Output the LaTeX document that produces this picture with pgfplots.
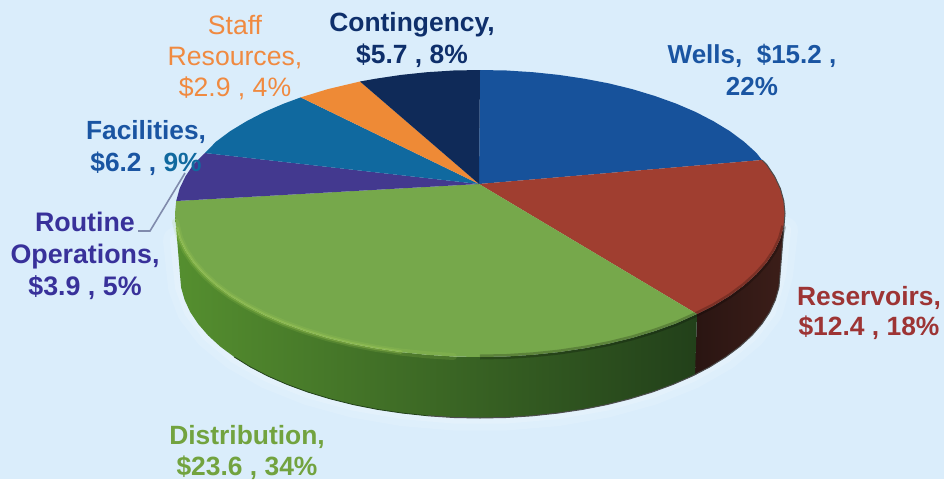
\documentclass[border=0pt]{standalone}
\usepackage{pgfplots}
\pgfplotsset{compat=1.18}
\usepackage{fontspec}
\setmainfont{Liberation Sans}
\definecolor{bg}{HTML}{DAEDFB}
\definecolor{cwells}{HTML}{17529B}
\definecolor{cres}{HTML}{A03E30}
\definecolor{cdist}{HTML}{76A84B}
\definecolor{crout}{HTML}{43398F}
\definecolor{cfac}{HTML}{10699F}
\definecolor{cstaff}{HTML}{EE8A36}
\definecolor{ccont}{HTML}{0F2A58}
\definecolor{twells}{HTML}{1A55A2}
\definecolor{tres}{HTML}{9D3434}
\definecolor{tdist}{HTML}{72A33F}
\definecolor{trout}{HTML}{38319A}
\definecolor{tstaff}{HTML}{F08A40}
\definecolor{tcont}{HTML}{0E2F6B}
\definecolor{sdA}{HTML}{558F2F}
\definecolor{sdB}{HTML}{3F722B}
\definecolor{sdC}{HTML}{22401A}
\definecolor{srA}{HTML}{2A1512}
\definecolor{srB}{HTML}{3C1E19}
\definecolor{hl}{HTML}{A9D15A}
\begin{document}
\begin{tikzpicture}
\begin{axis}[scale only axis,width=944pt,height=479pt,xmin=0,xmax=944,ymin=0,ymax=479,y dir=reverse,hide axis,clip=true]
% background
\addplot[draw=none,fill=bg] coordinates {(0,0)(944,0)(944,479)(0,479)} -- cycle;
% glow round the lower edge
\addplot[line width=26pt,color=white,opacity=0.12,line join=round,line cap=round] coordinates {(176,240)(181.1,287.5)(190.2,312)(208.1,335.4)(234.3,357)(267.9,376.1)(307.9,392.1)(353.2,404.6)(402.4,413.1)(453.9,417.5)(506.1,417.5)(557.6,413.1)(606.8,404.6)(652.1,392.1)(692.1,376.1)(725.7,357)(751.9,335.4)(769.8,312)(780,275)(785,230)};
\addplot[line width=12pt,color=white,opacity=0.18,line join=round,line cap=round] coordinates {(176,240)(181.1,287.5)(190.2,312)(208.1,335.4)(234.3,357)(267.9,376.1)(307.9,392.1)(353.2,404.6)(402.4,413.1)(453.9,417.5)(506.1,417.5)(557.6,413.1)(606.8,404.6)(652.1,392.1)(692.1,376.1)(725.7,357)(751.9,335.4)(769.8,312)(780,275)(785,230)};
% side: reservoirs
\addplot[draw=none,left color=srA,right color=srB] coordinates {
(785,213.5)(783.8,226)(780.4,238.4)(774.6,250.6)(766.6,262.6)(756.4,274.1)(744.1,285.25)(729.9,295.8)(713.6,305.7)(697,314)
(695,375)(709.8,366.9)(725.7,357)(739.8,346.5)(751.9,335.4)(761.9,323.9)(769.8,312)(775.4,299.8)(778.9,287.5)(780,275)} -- cycle;
% side: distribution
\addplot[draw=none,left color=sdA,middle color=sdB,right color=sdC] coordinates {
(697,314)(676.1,323.4)(654.9,331)(632.5,337.8)(608.9,343.6)(584.3,348.3)(558.9,352.1)(533,354.8)(506.6,356.5)(480,357)
(453.4,356.5)(427,354.8)(401.1,352.1)(375.7,348.3)(351.1,343.6)(327.5,337.8)(305.1,331)(283.9,323.4)(264.3,315)(246.4,305.7)
(230.1,295.8)(215.9,285.25)(203.6,274.1)(193.4,262.6)(185.4,250.6)(179.6,238.4)(176.2,226)(175,213.5)
(180,275)(181.1,287.5)(184.6,299.8)(190.2,312)(198.1,323.9)(208.1,335.4)(220.2,346.5)(234.3,357)(250.2,366.9)(267.9,376.1)
(287.2,384.5)(307.9,392.1)(330,398.8)(353.2,404.6)(377.4,409.4)(402.4,413.1)(427.9,415.8)(453.9,417.5)(480,418)(506.1,417.5)
(532.1,415.8)(557.6,413.1)(582.6,409.4)(606.8,404.6)(630,398.8)(652.1,392.1)(672.8,384.5)(695,375)} -- cycle;
% top faces
\addplot[draw=none,fill=cwells] coordinates {(479,184)(480,70)(506.6,70.5)(533,72.2)(558.9,74.9)(584.3,78.7)(608.9,83.4)(632.5,89.2)(654.9,96)(676.1,103.6)(695.7,112)(713.6,121.3)(729.9,131.2)(744.1,141.75)(756.4,152.9)(762,160)} -- cycle;
\addplot[draw=none,fill=cres] coordinates {(479,184)(762,160)(766.6,164.4)(774.6,176.4)(780.4,188.6)(783.8,201)(785,213.5)(783.8,226)(780.4,238.4)(774.6,250.6)(766.6,262.6)(756.4,274.1)(744.1,285.25)(729.9,295.8)(713.6,305.7)(697,314)} -- cycle;
\addplot[draw=none,fill=cdist] coordinates {(479,184)(697,314)(676.1,323.4)(654.9,331)(632.5,337.8)(608.9,343.6)(584.3,348.3)(558.9,352.1)(533,354.8)(506.6,356.5)(480,357)
(453.4,356.5)(427,354.8)(401.1,352.1)(375.7,348.3)(351.1,343.6)(327.5,337.8)(305.1,331)(283.9,323.4)(264.3,315)(246.4,305.7)
(230.1,295.8)(215.9,285.25)(203.6,274.1)(193.4,262.6)(185.4,250.6)(179.6,238.4)(176.2,226)(175,213.5)(176.2,201)} -- cycle;
\addplot[draw=none,fill=crout] coordinates {(479,184)(176.2,201)(179.6,188.6)(185.4,176.4)(193.4,164.4)(205,153)} -- cycle;
\addplot[draw=none,fill=cfac] coordinates {(479,184)(205,153)(215.9,141.75)(230.1,131.2)(246.4,121.3)(264.3,112)(283.9,103.6)(300.7,97.4)} -- cycle;
\addplot[draw=none,fill=cstaff] coordinates {(479,184)(300.7,97.4)(327.5,89.2)(360,81.5)} -- cycle;
\addplot[draw=none,fill=ccont] coordinates {(479,184)(360,81.5)(375.7,78.7)(401.1,74.9)(427,72.2)(453.4,70.5)(480,70)} -- cycle;
% soft dark rim on the right of the near edge
\addplot[line width=5pt,color=black,opacity=0.22,line join=round] coordinates {(783.8,226)(780.4,238.4)(774.6,250.6)(766.6,262.6)(756.4,274.1)(744.1,285.25)(729.9,295.8)(713.6,305.7)(697,314)(676.1,323.4)(654.9,331)(632.5,337.8)(608.9,343.6)(584.3,348.3)(558.9,352.1)(533,354.8)(506.6,356.5)(480,357)};
% outer rims
\addplot[line width=1pt,color=black!70,line join=round] coordinates {(762,160)(766.6,164.4)(774.6,176.4)(780.4,188.6)(783.8,201)(785,213.5)(780,275)(778.9,287.5)(775.4,299.8)(769.8,312)(761.9,323.9)(751.9,335.4)(739.8,346.5)(725.7,357)(709.8,366.9)(692.1,376.1)(672.8,384.5)(652.1,392.1)(630,398.8)(606.8,404.6)(582.6,409.4)(557.6,413.1)(532.1,415.8)(506.1,417.5)(480,418)(453.9,417.5)(427.9,415.8)};
\addplot[line width=0.8pt,color=sdC,line join=round] coordinates {(427.9,415.8)(402.4,413.1)(377.4,409.4)(353.2,404.6)(330,398.8)(307.9,392.1)(287.2,384.5)(267.9,376.1)(250.2,366.9)(234.3,357)};
% highlight on the green rim
\addplot[line width=7pt,color=hl,opacity=0.16,line join=round,line cap=round] coordinates {(175.5,222)(179.6,238.4)(185.4,250.6)(193.4,262.6)(203.6,274.1)(215.9,285.25)(230.1,295.8)(246.4,305.7)(264.3,315)(283.9,323.4)(305.1,331)(327.5,337.8)(351.1,343.6)(375.7,348.3)(401.1,352.1)(427,354.8)(453.4,356.5)};
\addplot[line width=3.5pt,color=hl,opacity=0.32,line join=round,line cap=round] coordinates {(177,228)(179.6,238.4)(185.4,250.6)(193.4,262.6)(203.6,274.1)(215.9,285.25)(230.1,295.8)(246.4,305.7)(264.3,315)(283.9,323.4)(305.1,331)(327.5,337.8)(351.1,343.6)(375.7,348.3)(401.1,352.1)};
% leader
\addplot[line width=1.6pt,color=black!35!bg!90!blue] coordinates {(138,231)(150,231)(185,173)};
% labels
\node[font=\fontsize{26.4}{32}\selectfont\bfseries,text=tcont,align=center] at (axis cs:412,40) {Contingency,\\ \$5.7 , 8\%};
\node[font=\fontsize{26}{32}\selectfont\bfseries,text=twells,align=center] at (axis cs:752,70) {Wells,\ \ \$15.2 ,\\ 22\%};
\node[font=\fontsize{26.4}{30}\selectfont\bfseries,text=tres,align=center] at (axis cs:869,312.5) {Reservoirs,\\ \$12.4 , 18\%};
\node[font=\fontsize{26.4}{31}\selectfont\bfseries,text=tdist,align=center] at (axis cs:247,452) {Distribution,\\ \$23.6 , 34\%};
\node[font=\fontsize{26.6}{31}\selectfont,text=tstaff,align=center] at (axis cs:235,58) {Staff\\ Resources,\\ \$2.9 , 4\%};
\node[font=\fontsize{26.3}{32}\selectfont\bfseries,text=twells,align=center] at (axis cs:146,148) {Facilities,\\ \$6.2 , {\color{cfac}9\%}};
\node[font=\fontsize{26.8}{32}\selectfont\bfseries,text=trout,align=center] at (axis cs:85,255.5) {Routine\\ Operations,\\ \$3.9 , 5\%};
\end{axis}
\end{tikzpicture}
\end{document}
